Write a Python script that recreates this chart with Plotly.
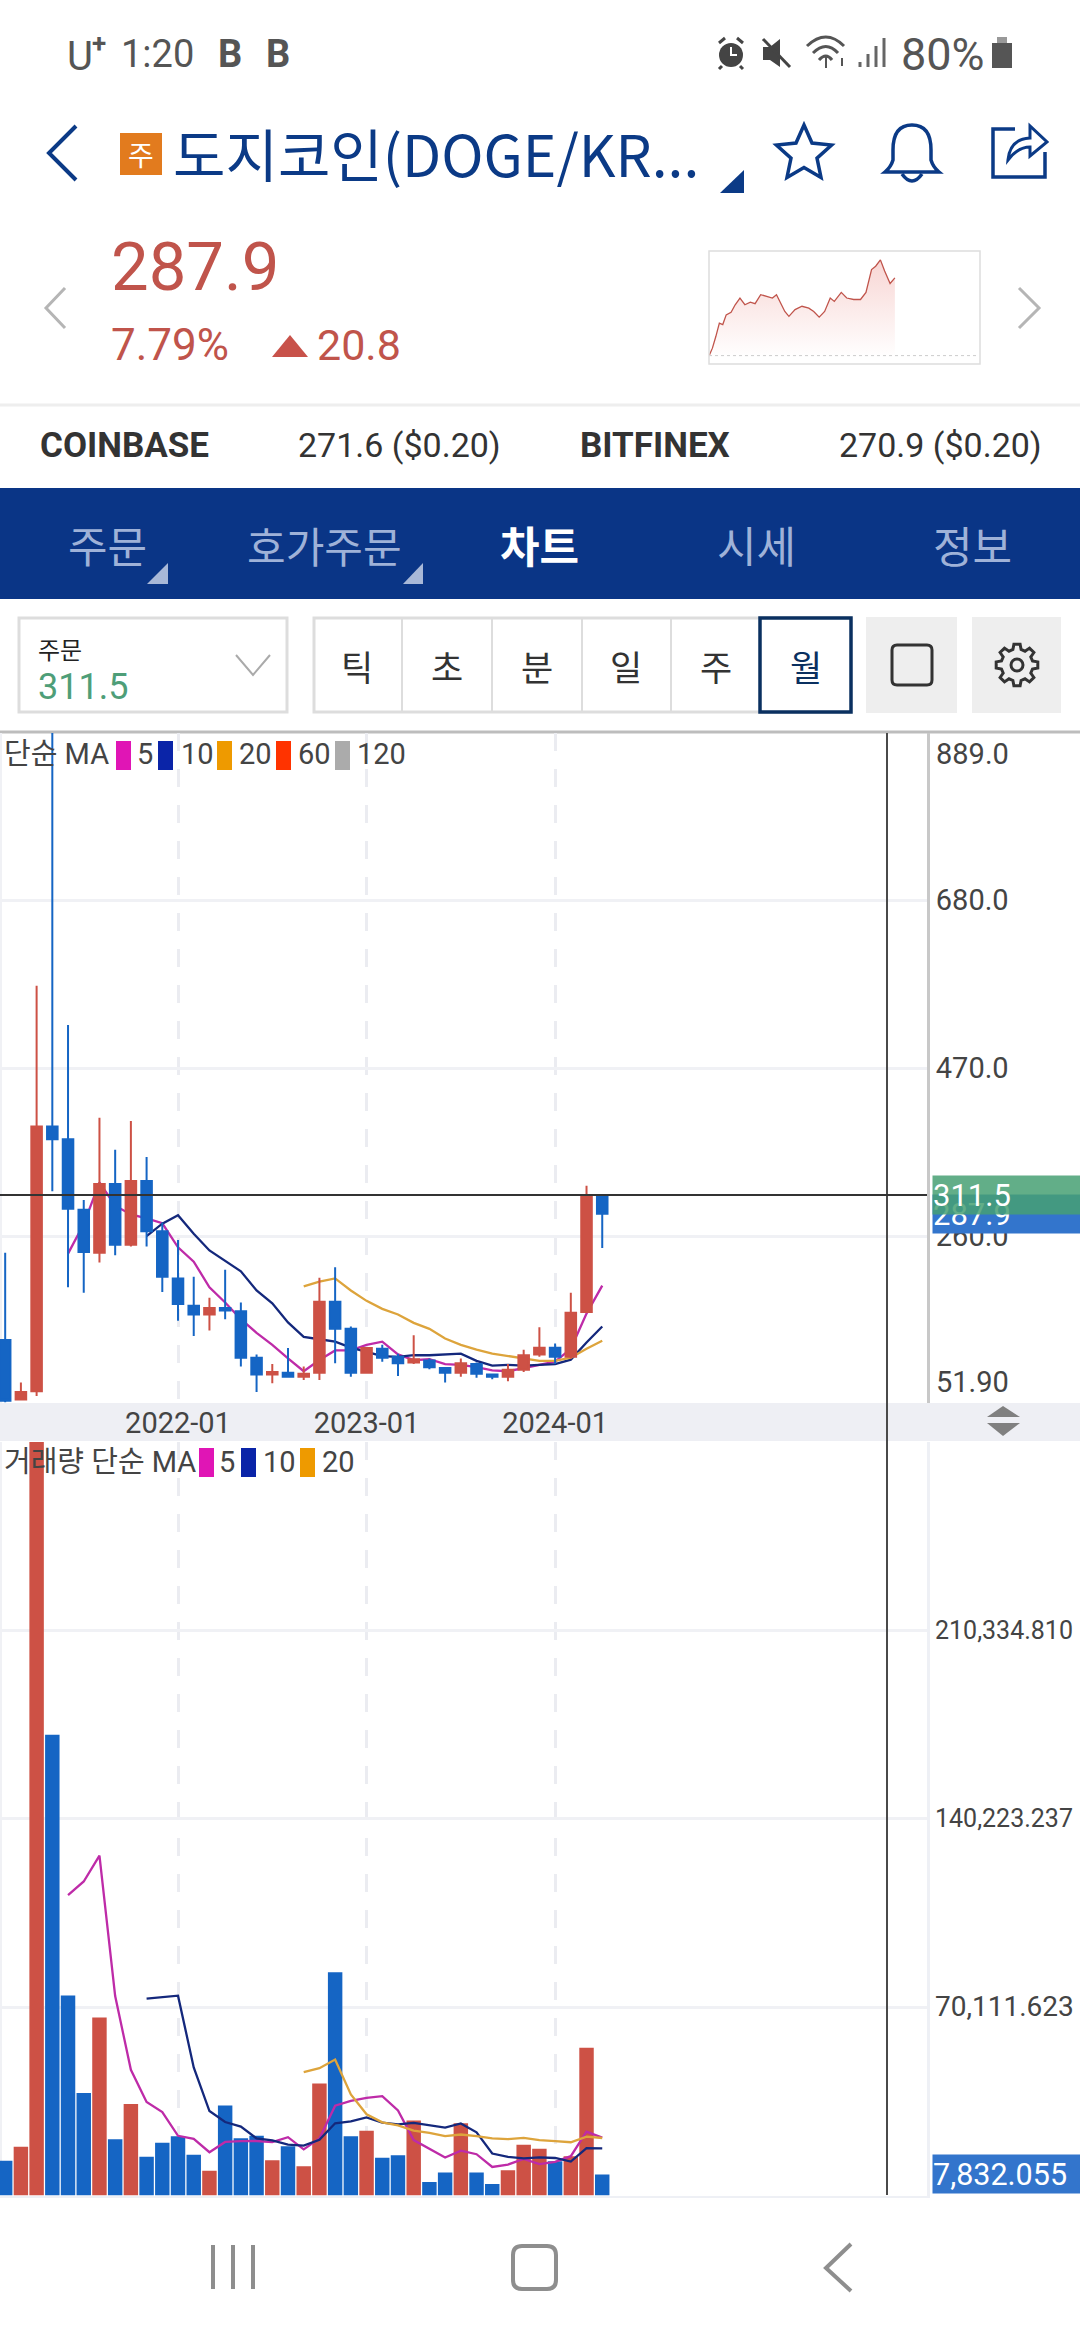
import math
import re
import plotly.graph_objects as go

W, H = 1080, 2340
FONT = "Roboto, 'Noto Sans CJK KR', sans-serif"
KO = "'Noto Sans CJK KR', Roboto, sans-serif"

months = ["2021-02", "2021-03", "2021-04", "2021-05", "2021-06", "2021-07", "2021-08", "2021-09", "2021-10",
          "2021-11", "2021-12", "2022-01", "2022-02", "2022-03", "2022-04", "2022-05", "2022-06", "2022-07",
          "2022-08", "2022-09", "2022-10", "2022-11", "2022-12", "2023-01", "2023-02", "2023-03", "2023-04",
          "2023-05", "2023-06", "2023-07", "2023-08", "2023-09", "2023-10", "2023-11", "2023-12", "2024-01",
          "2024-02", "2024-03", "2024-04"]
year_ticks = ["2022-01", "2023-01", "2024-01"]

opens = [130, 55.6, 66, 397, 381, 293, 239, 325, 249, 329, 266, 207, 173, 162, 170, 166, 108, 87, 89, 84,
         89, 178, 144, 89, 119, 109, 102, 104.5, 95, 89, 100, 87, 84, 93, 112, 120.5, 109, 165, 311.5]
highs = [239, 77, 573, 889, 524, 305, 408, 368, 404, 359, 277, 255, 209, 183, 218, 177, 112, 100, 120, 97,
         208, 221, 147, 121, 124, 113, 136, 107, 96, 107, 102, 88, 100, 118, 146, 125.6, 189, 323, 311.5]
lows = [52, 55, 60, 316, 196, 189, 227, 236, 247, 247, 190, 154, 135, 142, 156, 97, 65, 76, 83, 80,
        80, 101, 84, 88, 103, 85, 100, 93.5, 77, 84, 83, 81, 78.5, 90, 109, 100, 107, 165, 245]
closes = [54, 65, 397, 381, 294, 240, 325, 249, 329, 266, 209, 175, 162, 170, 167, 108, 87, 90, 84, 88,
          178, 144, 89, 120, 108, 101, 106, 96, 89, 101, 88, 84, 93, 111, 120.5, 109, 164, 311.5, 287.9]

ma5 = [238, 275, 327, 298, 287, 282, 276, 246, 228, 196, 177, 156, 139, 124, 107, 91, 105, 117, 117, 124,
       128, 112, 105, 106, 100, 99, 96, 92, 91, 95, 99, 103, 119, 163, 198]
ma10 = [260, 275.5, 286, 263, 242, 229, 216, 192, 176, 152, 134, 131, 128, 120.5, 115.5, 110, 109, 111,
        111, 112, 113, 104, 98, 99, 98, 99, 100, 105.5, 127, 147]
ma20 = [197, 203, 207, 192, 179, 169, 162, 151.5, 144, 132, 124, 118, 113, 110, 107, 104, 104, 108, 119, 129]

volume = [12953, 18134, 282000, 171347, 74386, 38118, 66244, 20910, 34047, 14433, 19614, 22020, 15173, 9252,
          33492, 21280, 22205, 13138, 18319, 10917, 41634, 83083, 22020, 24055, 14063, 14988, 27941, 4996,
          8512, 26831, 8512, 4256, 9437, 18874, 17394, 12768, 14618, 54957, 7832]
vol_ma5 = [111764, 116797, 126419, 74201, 46741, 34750, 31050, 22205, 21057, 16098, 19910, 20243, 20280,
           19873, 21687, 17172, 21243, 33418, 35195, 36342, 36971, 31642, 20613, 17209, 14100, 16654, 15358,
           10621, 11510, 13582, 11695, 12546, 14618, 23722, 21514]
vol_ma10 = [73257, 73923, 74312, 47629, 31420, 27330, 25647, 21243, 20465, 18893, 18541, 20743, 26849, 27534,
            29014, 27071, 26442, 27016, 26202, 25221, 26812, 23500, 15617, 14359, 13841, 14174, 13952, 12620,
            17616, 17548]
vol_ma20 = [45899, 47333, 50581, 37582, 30217, 27201, 26044, 24129, 23334, 22057, 22677, 22122, 21233, 20947,
            21428, 20623, 20197, 19818, 21909, 21384]

spark_hours = [0, .3, .6, .91, 1.21, 1.51, 1.94, 2.3, 2.72, 3.15, 3.63, 4.05, 4.54, 5.14, 5.57, 5.93, 6.35, 6.66,
               7.02, 7.56, 8.17, 8.77, 9.2, 9.68, 10.16, 10.65, 11.01, 11.62, 12.1, 12.71, 13.31, 13.79, 14.28,
               14.64, 15.06, 15.43, 15.91, 16.33]
spark_price = [267.0, 269.1, 272.2, 275.8, 275.4, 278.0, 278.7, 280.7, 282.5, 280.7, 281.4, 281.0, 283.4, 282.8,
               282.5, 283.4, 280.7, 278.9, 277.6, 279.4, 280.3, 279.8, 278.9, 277.4, 278.9, 282.5, 281.6, 284.0,
               282.5, 282.1, 282.1, 284.0, 290.1, 291.0, 292.7, 289.7, 286.4, 287.9]
prev_close = 267.1

RED = "#CD5145"
BLUE = "#1565C4"
MAGENTA = "#BE2BA8"
NAVY = "#14287C"
ORANGE = "#DDA43C"
NAVY_UI = "#0B3A86"
GRID = "#F0F1F5"
TXT = "#444444"

shapes = []
annotations = []


def fx(x):
    return x / W


def fy(y):
    return 1 - y / H


def rect(x0, y0, x1, y1, fill=None, line=None, lw=0, layer="above"):
    shapes.append(dict(type="rect", xref="paper", yref="paper", x0=fx(x0), x1=fx(x1), y0=fy(y0), y1=fy(y1),
                       fillcolor=fill or "rgba(0,0,0,0)", line=dict(color=line or "rgba(0,0,0,0)", width=lw),
                       layer=layer))


def seg(x0, y0, x1, y1, color, lw=2, layer="above"):
    shapes.append(dict(type="line", xref="paper", yref="paper", x0=fx(x0), x1=fx(x1), y0=fy(y0), y1=fy(y1),
                       line=dict(color=color, width=lw), layer=layer))


def draw(d, fill=None, line=None, lw=0):
    # path written in screen pixels, converted to paper fractions
    count = [0]

    def conv(m):
        v = float(m.group())
        count[0] += 1
        return f"{fx(v):.5f}" if count[0] % 2 == 1 else f"{fy(v):.5f}"

    shapes.append(dict(type="path", xref="paper", yref="paper", path=re.sub(r"-?\d+\.?\d*", conv, d),
                       fillcolor=fill or "rgba(0,0,0,0)", line=dict(color=line or "rgba(0,0,0,0)", width=lw)))


def circle(cx, cy, r, fill=None, line=None, lw=0):
    shapes.append(dict(type="circle", xref="paper", yref="paper", x0=fx(cx - r), x1=fx(cx + r), y0=fy(cy - r),
                       y1=fy(cy + r), fillcolor=fill or "rgba(0,0,0,0)",
                       line=dict(color=line or "rgba(0,0,0,0)", width=lw)))


def label(x, y, text, size, color=TXT, anchor="left", bold=False, family=FONT):
    annotations.append(dict(xref="paper", yref="paper", x=fx(x), y=fy(y), text=f"<b>{text}</b>" if bold else text,
                            xanchor=anchor, yanchor="middle", showarrow=False,
                            font=dict(family=family, size=size, color=color)))


def star_path(cx, cy, r):
    pts = []
    for k in range(10):
        rad = r if k % 2 == 0 else r * 0.47
        a = -math.pi / 2 + k * math.pi / 5
        pts.append(f"{cx + rad * math.cos(a):.1f} {cy + rad * math.sin(a):.1f}")
    return "M " + " L ".join(pts) + " Z"


def gear_path(cx, cy, r0, r1, teeth=8):
    pts = []
    step = 2 * math.pi / teeth
    for k in range(teeth):
        a = k * step
        for off, rad in [(-.3, r0), (-.17, r1), (.17, r1), (.3, r0)]:
            pts.append(f"{cx + rad * math.cos(a + off * step * 1.1):.1f} {cy + rad * math.sin(a + off * step * 1.1):.1f}")
    return "M " + " L ".join(pts) + " Z"


# status bar
label(65, 56, "U", 40, "#555555")
label(90, 43, "+", 26, "#555555", bold=True)
label(119, 54, "1:20", 38, "#555555")
label(216, 54, "B", 38, "#555555", bold=True)
label(264, 54, "B", 38, "#555555", bold=True)
circle(731, 55, 12, fill="#444444")
draw("M 719 43 L 725 38 M 743 43 L 737 38 M 722 66 L 719 69 M 740 66 L 743 69", line="#444444", lw=3)
draw("M 731 47 L 731 55 L 737 55", line="#FFFFFF", lw=2)
draw("M 763 47 L 770 47 L 780 39 L 780 67 L 770 60 L 763 60 Z", fill="#444444")
seg(763, 39, 790, 67, "#444444", 3)
draw("M 807 46 Q 826 28 844 46", line="#555555", lw=3)
draw("M 813 53 Q 826 40 838 53", line="#555555", lw=3)
draw("M 819 60 Q 826 52 832 60", line="#555555", lw=3)
seg(826, 57, 826, 68, "#555555", 2)
seg(842, 58, 842, 66, "#555555", 2)
for bar_x, bar_top in [(860, 62), (868, 54), (876, 46), (884, 38)]:
    seg(bar_x, bar_top, bar_x, 67, "#666666", 3)
label(899, 54, "80%", 45, "#555555")
rect(992, 43, 1012, 68, fill="#555555")
rect(997, 37, 1007, 43, fill="#999999")

# header
draw("M 76 126 L 49 153 L 76 180", line=NAVY_UI, lw=4)
rect(120, 133, 162, 175, fill="#E27B1E")
label(141, 154, "주", 28, "#FFFFFF", "center", family=KO)
label(171, 152, "도지코인(DOGE/KR...", 57, NAVY_UI, family=KO)
draw("M 744 170 L 720 193 L 744 193 Z", fill=NAVY_UI)
draw(star_path(804, 154, 29), line=NAVY_UI, lw=3.5)
draw("M 912 125 Q 893 125 893 150 L 893 160 Q 891 167 885 172 L 939 172 Q 933 167 931 160 L 931 150 Q 931 125 912 125 Z",
     line=NAVY_UI, lw=3.5)
draw("M 902 174 Q 912 188 922 174", line=NAVY_UI, lw=3.5)
draw("M 1015 129 L 993 129 L 993 177 L 1045 177 L 1045 152", line=NAVY_UI, lw=3.5)
draw("M 1008 160 Q 1010 139 1030 138 L 1030 126 L 1047 142 L 1030 156 L 1030 147 Q 1018 147 1008 160 Z",
     line=NAVY_UI, lw=3, fill="#FFFFFF")

# price block
draw("M 65 288 L 46 308 L 65 328", line="#B5B5B5", lw=3)
draw("M 1019 288 L 1039 308 L 1019 328", line="#B5B5B5", lw=3)
label(109, 267, "287.9", 67, "#C0544B")
label(109, 345, "7.79%", 44, "#C0544B")
draw("M 290 335 L 272 357 L 308 357 Z", fill="#C8524A")
label(315, 345, "20.8", 43, "#C0544B")
rect(709, 251, 980, 364, line="#DDDDDD", lw=1.5)

# exchange row
seg(0, 405, W, 405, "#EEEEEE", 3, "below")
label(38, 445, "COINBASE", 35, "#333333", bold=True)
label(296, 445, "271.6 ($0.20)", 34, "#333333")
label(578, 445, "BITFINEX", 35, "#333333", bold=True)
label(837, 445, "270.9 ($0.20)", 34, "#333333")

# blue tab band
rect(0, 488, W, 599, fill="#0A3586", layer="below")
label(107, 544, "주문", 43, "#9FB2D8", "center", family=KO)
label(324, 544, "호가주문", 42, "#9FB2D8", "center", family=KO)
label(539, 544, "차트", 43, "#FFFFFF", "center", bold=True, family=KO)
label(756, 544, "시세", 43, "#9FB2D8", "center", family=KO)
label(972, 544, "정보", 43, "#9FB2D8", "center", family=KO)
draw("M 168 563 L 147 584 L 168 584 Z", fill="#A8B8D8")
draw("M 423 563 L 403 584 L 423 584 Z", fill="#A8B8D8")

# controls row
rect(19, 618, 287, 712, line="#DDDDDD", lw=3)
label(36, 648, "주문", 24, "#222222", family=KO)
label(36, 687, "311.5", 36, "#4E9E78")
draw("M 236 655 L 253 675 L 270 655", line="#AAAAAA", lw=2)
rect(314, 618, 850, 712, line="#DDDDDD", lw=3)
for sep_x in [402, 492, 582, 671]:
    seg(sep_x, 618, sep_x, 712, "#DDDDDD", 2)
for cell_x, cell in zip([357, 447, 537, 626, 716], ["틱", "초", "분", "일", "주"]):
    label(cell_x, 665, cell, 35, "#333333", "center", family=KO)
rect(760, 618, 851, 712, fill="#FFFFFF", line="#0A3060", lw=3.5)
label(806, 665, "월", 35, "#0A3060", "center", family=KO)
rect(866, 617, 957, 713, fill="#EEEEEE")
rect(972, 617, 1061, 713, fill="#EEEEEE")
draw("M 897 645 L 927 645 Q 932 645 932 650 L 932 680 Q 932 685 927 685 L 897 685 Q 892 685 892 680 "
     "L 892 650 Q 892 645 897 645 Z", line="#333333", lw=3)
draw(gear_path(1017, 665, 16, 21), line="#333333", lw=3)
circle(1017, 665, 6, line="#333333", lw=3)

# chart frame
seg(0, 732, W, 732, "#BDBDBD", 3, "below")
seg(1, 733, 1, 1403, GRID, 2, "below")
seg(1, 1442, 1, 2195, GRID, 2, "below")
rect(0, 1403, W, 1441, fill="#EEEFF4", layer="below")
draw("M 1003 1406 L 987 1417 L 1020 1417 Z", fill="#808080")
draw("M 1003 1436 L 987 1423 L 1020 1423 Z", fill="#808080")
seg(887, 733, 887, 2195, "#4A4A4A", 2)

# legends
label(2, 754, "단순 MA", 29, TXT)
for sw_x, sw_col, sw_txt, sw_label in [(116, "#E015B5", 135, "5"), (158, "#0A24A8", 179, "10"),
                                       (217, "#EE9A00", 237, "20"), (276, "#FF3300", 296, "60"),
                                       (335, "#ABABAB", 355, "120")]:
    rect(sw_x, 741, sw_x + 15, 770, fill=sw_col)
    label(sw_txt, 754, sw_label, 29, TXT)
label(2, 1462, "거래량 단순 MA", 29, TXT)
for sw_x, sw_col, sw_txt, sw_label in [(199, "#E015B5", 217, "5"), (241, "#0A24A8", 261, "10"),
                                       (300, "#EE9A00", 320, "20")]:
    rect(sw_x, 1448, sw_x + 15, 1477, fill=sw_col)
    label(sw_txt, 1462, sw_label, 29, TXT)

# price axis corner labels and last price tags
for val, shift in [(889.0, -21), (51.9, 21)]:
    annotations.append(dict(xref="paper", yref="y", x=fx(934), y=val, yshift=shift, xanchor="left", yanchor="middle",
                            showarrow=False, text=f"{val:.1f}" if val > 100 else "51.90",
                            font=dict(family=FONT, size=29, color=TXT)))
for val, txt, bg in [(closes[-1], "287.9", "#3375CC"), (opens[-1], "311.5", "rgba(70,160,115,0.85)")]:
    annotations.append(dict(xref="paper", yref="y", x=fx(932), y=val, xanchor="left", yanchor="middle", align="left",
                            showarrow=False, text=txt, width=148, height=38, bgcolor=bg, borderpad=0,
                            font=dict(family=FONT, size=31, color="#FFFFFF")))
annotations.append(dict(xref="paper", yref="y3", x=fx(932), y=volume[-1], xanchor="left", yanchor="middle",
                        align="left", showarrow=False, text="7,832.055", width=148, height=38, bgcolor="#3375CC",
                        borderpad=0, font=dict(family=FONT, size=30.5, color="#FFFFFF")))

# crosshair at the open of the last bar
shapes.append(dict(type="line", xref="paper", yref="y", x0=0, x1=fx(927), y0=opens[-1], y1=opens[-1],
                   line=dict(color="#333333", width=2), layer="above"))

# bottom navigation
for nav_x in [213, 233, 253]:
    seg(nav_x, 2245, nav_x, 2289, "#8E8E8E", 4)
draw("M 522 2246 L 547 2246 Q 556 2246 556 2255 L 556 2280 Q 556 2289 547 2289 L 522 2289 Q 513 2289 513 2280 "
     "L 513 2255 Q 513 2246 522 2246 Z", line="#8E8E8E", lw=4)
draw("M 851 2244 L 826 2268 L 851 2291", line="#8E8E8E", lw=4)

fig = go.Figure()

fig.add_trace(go.Scatter(x=months[4:], y=ma5, mode="lines", line=dict(color=MAGENTA, width=2.3), xaxis="x", yaxis="y"))
fig.add_trace(go.Scatter(x=months[9:], y=ma10, mode="lines", line=dict(color=NAVY, width=2.3), xaxis="x", yaxis="y"))
fig.add_trace(go.Scatter(x=months[19:], y=ma20, mode="lines", line=dict(color=ORANGE, width=2.3), xaxis="x", yaxis="y"))
fig.add_trace(go.Candlestick(x=months, open=opens, high=highs, low=lows, close=closes, xaxis="x", yaxis="y2",
                             increasing=dict(line=dict(color=RED, width=2), fillcolor=RED),
                             decreasing=dict(line=dict(color=BLUE, width=2), fillcolor=BLUE)))

bar_colors = [RED if c >= o else BLUE for o, c in zip(opens, closes)]
fig.add_trace(go.Bar(x=months, y=volume, marker=dict(color=bar_colors, line=dict(width=0)), width=0.92,
                     xaxis="x2", yaxis="y3"))
fig.add_trace(go.Scatter(x=months[4:], y=vol_ma5, mode="lines", line=dict(color=MAGENTA, width=2.3), xaxis="x2", yaxis="y3"))
fig.add_trace(go.Scatter(x=months[9:], y=vol_ma10, mode="lines", line=dict(color=NAVY, width=2.3), xaxis="x2", yaxis="y3"))
fig.add_trace(go.Scatter(x=months[19:], y=vol_ma20, mode="lines", line=dict(color=ORANGE, width=2.3), xaxis="x2", yaxis="y3"))

fig.add_trace(go.Scatter(x=spark_hours, y=spark_price, mode="lines", line=dict(color="#C0544B", width=1.3),
                         fill="tozeroy", fillgradient=dict(type="vertical", start=292.7, stop=266.5,
                                                           colorscale=[[0, "rgba(248,214,212,1)"], [1, "rgba(255,255,255,1)"]]),
                         xaxis="x3", yaxis="y4"))
fig.add_trace(go.Scatter(x=[0, 23.72], y=[prev_close, prev_close], mode="lines",
                         line=dict(color="#CCCCCC", width=1, dash="3px,3px"), xaxis="x3", yaxis="y4"))

x_range = [-0.33, 58.67]
x_domain = [0, 927 / W]
x_common = dict(type="category", categoryorder="array", categoryarray=months, range=x_range, domain=x_domain,
                tickmode="array", tickvals=year_ticks, ticktext=year_ticks, showgrid=True, gridcolor="#EBECF1",
                gridwidth=3, griddash="18px,18px", zeroline=False, ticks="", rangeslider=dict(visible=False))

fig.update_layout(
    width=W, height=H, margin=dict(l=0, r=0, t=0, b=0), paper_bgcolor="#FFFFFF", plot_bgcolor="rgba(0,0,0,0)",
    showlegend=False, hovermode=False, boxgap=0.04, barmode="overlay",
    font=dict(family=FONT, color=TXT),
    xaxis=dict(anchor="y", showticklabels=True, tickfont=dict(size=29, color=TXT, family=FONT), showline=False, **x_common),
    yaxis=dict(domain=[fy(1402.5), fy(733)], range=[51.9, 889], side="right", anchor="x", tickmode="array",
               tickvals=[260, 470, 680], ticktext=["260.0", "470.0", "680.0"], showgrid=True, gridcolor=GRID,
               gridwidth=2.5, zeroline=False, showline=True, linecolor="#C8C8C8", linewidth=3, ticks="",
               tickfont=dict(size=29, color=TXT, family=FONT)),
    yaxis2=dict(domain=[fy(1402.5), fy(733)], range=[51.9, 889], side="right", overlaying="y", anchor="x",
                showgrid=False, zeroline=False, showticklabels=False, ticks=""),
    xaxis2=dict(anchor="y3", showticklabels=False, showline=True, linecolor="#EEF0F5", linewidth=2, **x_common),
    yaxis3=dict(domain=[fy(2195.5), fy(1442)], range=[0, 280260], side="right", anchor="x2", tickmode="array",
                tickvals=[70111.623, 140223.237, 210334.81],
                ticktext=["<span style='font-size:28px'>70,111.623</span>", "140,223.237", "210,334.810"],
                showgrid=True, gridcolor=GRID, gridwidth=2.5, zeroline=False, showline=True, linecolor="#EEF0F5",
                linewidth=3, ticks="", tickfont=dict(size=25, color=TXT, family=FONT)),
    xaxis3=dict(domain=[fx(709), fx(979)], range=[0, 23.72], anchor="y4", visible=False),
    yaxis4=dict(domain=[fy(364), fy(251)], range=[264.86, 295.07], anchor="x3", visible=False),
    shapes=shapes, annotations=annotations,
)

# the page body's default margin would push the figure off its place
fig.write_html("out.html", post_script="document.body.style.margin='0';", config={"displayModeBar": False})
